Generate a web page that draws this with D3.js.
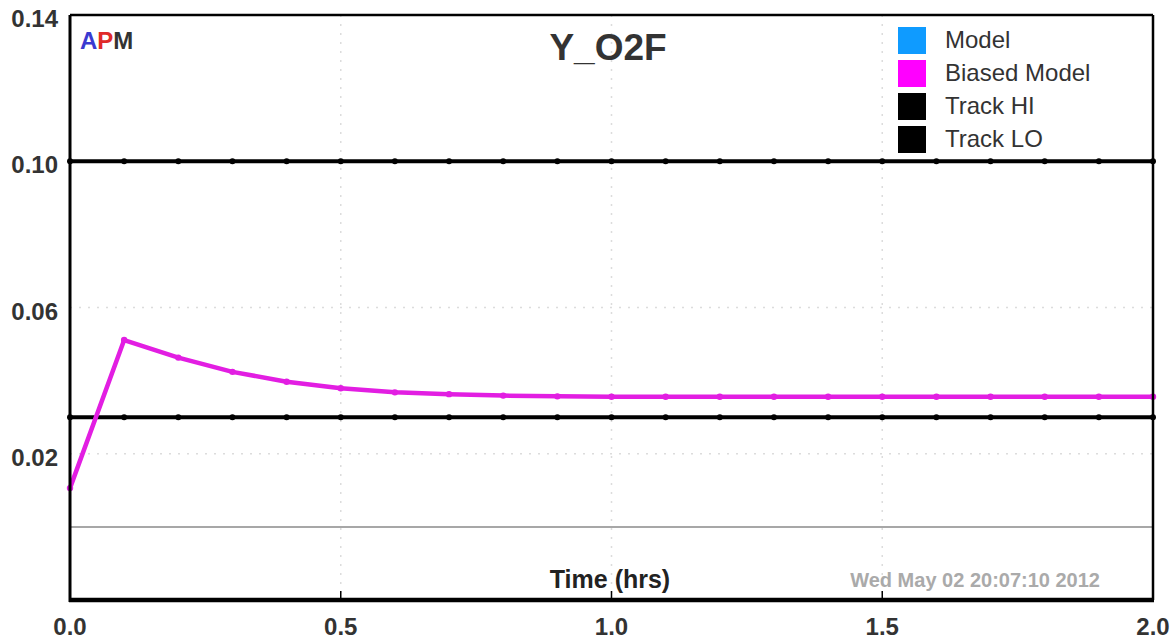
<!DOCTYPE html>
<html>
<head>
<meta charset="utf-8">
<script src="https://cdn.jsdelivr.net/npm/d3@7"></script>
<style>
  html, body { margin: 0; padding: 0; background: #fff; }
  svg { display: block; font-family: "Liberation Sans", Arial, sans-serif; }
</style>
</head>
<body>
<svg id="chart" width="1173" height="639"></svg>
<script>
// Time grid (hours)
const times = [0.0, 0.1, 0.2, 0.3, 0.4, 0.5, 0.6, 0.7, 0.8, 0.9, 1.0,
               1.1, 1.2, 1.3, 1.4, 1.5, 1.6, 1.7, 1.8, 1.9, 2.0];
// Biased model response
const biasedModel = [0.0106, 0.0511, 0.0463, 0.0424, 0.0397, 0.0379, 0.0368, 0.0363, 0.0359, 0.0357, 0.0356,
                     0.0356, 0.0356, 0.0356, 0.0356, 0.0356, 0.0356, 0.0356, 0.0356, 0.0356, 0.0356];
// Tracking limits
const trackHi = 0.10;
const trackLo = 0.03;
// Axis ticks
const yTicks = [0.02, 0.06, 0.10, 0.14];
const yTickLabels = ["0.02", "0.06", "0.10", "0.14"];
const xTicks = [0.0, 0.5, 1.0, 1.5, 2.0];
const xTickLabels = ["0.0", "0.5", "1.0", "1.5", "2.0"];
// Legend
const legendNames = ["Model", "Biased Model", "Track HI", "Track LO"];
const legendColors = ["#0f9bff", "#ff00ff", "#000000", "#000000"];

const svg = d3.select("#chart");
const L = 70, R = 1153, T = 15, B = 600;

const x = d3.scaleLinear().domain([0, 2]).range([L, R]);
const y = d3.scaleLinear().domain([-0.02, 0.14]).range([B, T]);

// dotted grid
const grid = svg.append("g");
grid.selectAll("line.h").data(yTicks).join("line")
  .attr("x1", L).attr("x2", R)
  .attr("y1", d => y(d)).attr("y2", d => y(d))
  .attr("stroke", "#dcdcdc").attr("stroke-width", 1.5).attr("stroke-dasharray", "2,7");
grid.selectAll("line.v").data(xTicks.slice(1, -1)).join("line")
  .attr("x1", d => x(d)).attr("x2", d => x(d))
  .attr("y1", T).attr("y2", B)
  .attr("stroke", "#dcdcdc").attr("stroke-width", 1.5).attr("stroke-dasharray", "2,7");

// zero reference line
svg.append("line")
  .attr("x1", L).attr("x2", R).attr("y1", y(0)).attr("y2", y(0))
  .attr("stroke", "#8a8a8a").attr("stroke-width", 1.5);

// tracking limit lines with point markers
[trackHi, trackLo].forEach(v => {
  svg.append("line")
    .attr("x1", L).attr("x2", R).attr("y1", y(v)).attr("y2", y(v))
    .attr("stroke", "#000").attr("stroke-width", 4);
  svg.append("g").selectAll("circle").data(times).join("circle")
    .attr("cx", d => x(d)).attr("cy", y(v)).attr("r", 3).attr("fill", "#000");
});

// biased model line
const line = d3.line().x((d, i) => x(times[i])).y(d => y(d));
svg.append("path").datum(biasedModel)
  .attr("d", line).attr("fill", "none")
  .attr("stroke", "#e21ee2").attr("stroke-width", 4.5).attr("stroke-linejoin", "round");
svg.append("g").selectAll("circle").data(biasedModel).join("circle")
  .attr("cx", (d, i) => x(times[i])).attr("cy", d => y(d)).attr("r", 3.2).attr("fill", "#e21ee2");

// frame
svg.append("line").attr("x1", L).attr("x2", R).attr("y1", T).attr("y2", T).attr("stroke", "#000").attr("stroke-width", 2.5);
svg.append("line").attr("x1", R).attr("x2", R).attr("y1", T).attr("y2", B).attr("stroke", "#000").attr("stroke-width", 2.5);
svg.append("line").attr("x1", L).attr("x2", L).attr("y1", T).attr("y2", B + 2).attr("stroke", "#000").attr("stroke-width", 3);
svg.append("line").attr("x1", L - 1).attr("x2", R + 1).attr("y1", B).attr("y2", B).attr("stroke", "#000").attr("stroke-width", 4.5);

// small x ticks on the bottom border
svg.append("g").selectAll("line").data(xTicks.slice(1, -1)).join("line")
  .attr("x1", d => x(d)).attr("x2", d => x(d)).attr("y1", B).attr("y2", B - 9)
  .attr("stroke", "#000").attr("stroke-width", 1.5);

// axis labels
svg.append("g").selectAll("text").data(yTicks).join("text")
  .attr("x", 58).attr("y", d => y(d) + 12)
  .attr("text-anchor", "end").attr("font-size", 24).attr("font-weight", "bold").attr("fill", "#333")
  .text((d, i) => yTickLabels[i]);
svg.append("g").selectAll("text").data(xTicks).join("text")
  .attr("x", d => x(d)).attr("y", 635)
  .attr("text-anchor", "middle").attr("font-size", 24).attr("font-weight", "bold").attr("fill", "#333")
  .text((d, i) => xTickLabels[i]);

// title
svg.append("text").attr("x", 608).attr("y", 60).attr("text-anchor", "middle")
  .attr("font-size", 37).attr("font-weight", "bold").attr("fill", "#333").text("Y_O2F");

// APM mark
const apm = svg.append("text").attr("x", 80).attr("y", 49).attr("font-size", 24).attr("font-weight", "bold");
apm.append("tspan").attr("fill", "#3a3ad0").text("A");
apm.append("tspan").attr("fill", "#e02a2a").text("P");
apm.append("tspan").attr("fill", "#333").text("M");

// axis title and timestamp
svg.append("text").attr("x", 610).attr("y", 588).attr("text-anchor", "middle")
  .attr("font-size", 25).attr("font-weight", "bold").attr("fill", "#222").text("Time (hrs)");
svg.append("text").attr("x", 1100).attr("y", 587).attr("text-anchor", "end")
  .attr("font-size", 20).attr("font-weight", "bold").attr("fill", "#aaa").text("Wed May 02 20:07:10 2012");

// legend
const lg = svg.append("g").selectAll("g").data(legendNames).join("g")
  .attr("transform", (d, i) => `translate(898, ${27 + i * 33})`);
lg.append("rect").attr("width", 28).attr("height", 27).attr("fill", (d, i) => legendColors[i]);
lg.append("text").attr("x", 47).attr("y", 21).attr("font-size", 24).attr("fill", "#333").text(d => d);
</script>
</body>
</html>
